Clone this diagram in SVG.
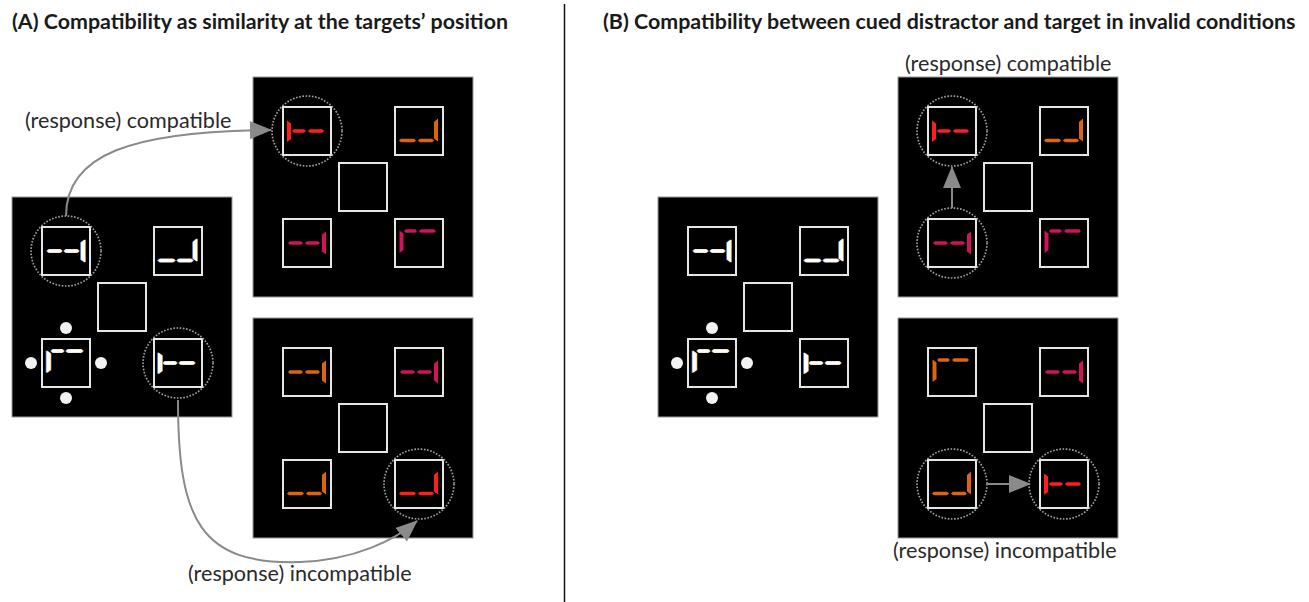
<svg xmlns="http://www.w3.org/2000/svg" xmlns:xlink="http://www.w3.org/1999/xlink" width="1309" height="602" viewBox="0 0 1309 602">
  <style>
    .title { font-family: Lato, "Liberation Sans", sans-serif; font-weight: bold; font-size: 21.4px; fill: #1a1a1a; }
    .label { font-family: Lato, "Liberation Sans", sans-serif; font-size: 21.6px; fill: #2a2a2a; }
    .panel { fill: #000; stroke: #9a9a9a; stroke-width: 1; }
    .box { fill: none; stroke: #e6e6e6; stroke-width: 2; }
    .ring { fill: none; stroke: #a0a0a0; stroke-width: 1.7; stroke-dasharray: 1.6 1.6; }
    .dot { fill: #f2f2f2; }
    .link { fill: none; stroke: #8a8a8a; stroke-width: 2; }
    .white { color: #ffffff; }
    .red { color: #ff1f1f; }
    .orange { color: #de6410; }
    .pink { color: #d2125c; }
  </style>
  <defs>
    <marker id="head" markerUnits="userSpaceOnUse" markerWidth="24" markerHeight="20" refX="21" refY="9" orient="auto">
      <path d="M0,0 L22,9 L0,18 Z" fill="#8a8a8a"/>
    </marker>
    <!-- two dashes on the middle line, bar on the right -->
    <g id="g-mid-right" fill="currentColor">
      <polygon points="-19,0 -17.2,-1.8 -5.8,-1.8 -4,0 -5.8,1.8 -17.2,1.8"/>
      <polygon points="-2,0 -0.2,-1.8 11.2,-1.8 13,0 11.2,1.8 -0.2,1.8"/>
      <polygon points="15,-8.5 19,-11.5 19,11.5 15,8.5"/>
    </g>
    <!-- two dashes on the bottom line, bar on the right -->
    <g id="g-bot-right" fill="currentColor">
      <polygon points="-20,9.5 -18.2,7.7 -4.8,7.7 -3,9.5 -4.8,11.3 -18.2,11.3"/>
      <polygon points="-1,9.5 0.8,7.7 13.2,7.7 15,9.5 13.2,11.3 0.8,11.3"/>
      <polygon points="15,-9 19,-12.5 19,10.5 15,7.5"/>
    </g>
    <!-- two dashes on the top line, bar on the left -->
    <g id="g-top-left" fill="currentColor">
      <polygon points="-15,-12 -13.2,-13.8 -3.8,-13.8 -2,-12 -3.8,-10.2 -13.2,-10.2"/>
      <polygon points="0,-12 1.8,-13.8 15.2,-13.8 17,-12 15.2,-10.2 1.8,-10.2"/>
      <polygon points="-19.5,-12.5 -15.5,-9.5 -15.5,7 -19.5,10"/>
    </g>
    <!-- bar on the left, two dashes on the middle line -->
    <g id="g-mid-left" fill="currentColor">
      <polygon points="-20,-10.5 -16,-7.5 -16,8 -20,11"/>
      <polygon points="-15,0 -13.2,-1.8 -2.8,-1.8 -1,0 -2.8,1.8 -13.2,1.8"/>
      <polygon points="1,0 2.8,-1.8 15.2,-1.8 17,0 15.2,1.8 2.8,1.8"/>
    </g>
    <!-- display frame: black field with four placeholders and a centre box -->
    <g id="frame">
      <rect class="panel" x="0" y="0" width="220" height="220"/>
      <rect class="box" x="30" y="30" width="48" height="48"/>
      <rect class="box" x="142" y="30" width="48" height="48"/>
      <rect class="box" x="86" y="86" width="48" height="48"/>
      <rect class="box" x="30" y="142" width="48" height="48"/>
      <rect class="box" x="142" y="142" width="48" height="48"/>
    </g>
    <!-- white glyphs with a slight colour fringe -->
    <g id="w-mid-right"><use href="#g-mid-right" x="-0.8" style="color:#5aa0ff"/><use href="#g-mid-right" x="0.8" style="color:#ffb040"/><use href="#g-mid-right" class="white"/></g>
    <g id="w-bot-right"><use href="#g-bot-right" x="-0.8" style="color:#5aa0ff"/><use href="#g-bot-right" x="0.8" style="color:#ffb040"/><use href="#g-bot-right" class="white"/></g>
    <g id="w-top-left"><use href="#g-top-left" x="-0.8" style="color:#5aa0ff"/><use href="#g-top-left" x="0.8" style="color:#ffb040"/><use href="#g-top-left" class="white"/></g>
    <g id="w-mid-left"><use href="#g-mid-left" x="-0.8" style="color:#5aa0ff"/><use href="#g-mid-left" x="0.8" style="color:#ffb040"/><use href="#g-mid-left" class="white"/></g>
    <!-- cue dots around a placeholder -->
    <g id="cue">
      <circle class="dot" cx="0" cy="-35" r="6"/>
      <circle class="dot" cx="-35" cy="0" r="6"/>
      <circle class="dot" cx="35" cy="0" r="6"/>
      <circle class="dot" cx="0" cy="35" r="6"/>
    </g>
  </defs>

  <rect x="0" y="0" width="1309" height="602" fill="#ffffff"/>

  <!-- headings and divider -->
  <text class="title" x="12" y="29">(A) Compatibility as similarity at the targets’ position</text>
  <text class="title" x="603" y="29">(B) Compatibility between cued distractor and target in invalid conditions</text>
  <line x1="564.5" y1="4" x2="564.5" y2="602" stroke="#111" stroke-width="1.5"/>

  <!-- (A) cue display -->
  <g id="a-cue" transform="translate(12,197)">
    <use href="#frame"/>
    <use href="#w-mid-right" transform="translate(54,54)"/>
    <use href="#w-bot-right" transform="translate(166,54)"/>
    <use href="#w-top-left" transform="translate(54,166)"/>
    <use href="#w-mid-left" transform="translate(166,166)"/>
    <use href="#cue" transform="translate(54,166)"/>
    <circle class="ring" cx="54" cy="54" r="35"/>
    <circle class="ring" cx="166" cy="166" r="35"/>
  </g>

  <!-- (A) compatible target display -->
  <g id="a-compatible" transform="translate(253,77)">
    <use href="#frame"/>
    <use href="#g-mid-left" class="red" transform="translate(54,54)"/>
    <use href="#g-bot-right" class="orange" transform="translate(166,54)"/>
    <use href="#g-mid-right" class="pink" transform="translate(54,166)"/>
    <use href="#g-top-left" class="pink" transform="translate(166,166)"/>
    <circle class="ring" cx="54" cy="54" r="35"/>
  </g>

  <!-- (A) incompatible target display -->
  <g id="a-incompatible" transform="translate(253,318)">
    <use href="#frame"/>
    <use href="#g-mid-right" class="orange" transform="translate(54,54)"/>
    <use href="#g-mid-right" class="pink" transform="translate(166,54)"/>
    <use href="#g-bot-right" class="orange" transform="translate(54,166)"/>
    <use href="#g-bot-right" class="red" transform="translate(166,166)"/>
    <circle class="ring" cx="166" cy="166" r="35"/>
  </g>

  <!-- (B) cue display -->
  <g id="b-cue" transform="translate(658,197)">
    <use href="#frame"/>
    <use href="#w-mid-right" transform="translate(54,54)"/>
    <use href="#w-bot-right" transform="translate(166,54)"/>
    <use href="#w-top-left" transform="translate(54,166)"/>
    <use href="#w-mid-left" transform="translate(166,166)"/>
    <use href="#cue" transform="translate(54,166)"/>
  </g>

  <!-- (B) compatible target display -->
  <g id="b-compatible" transform="translate(898,77)">
    <use href="#frame"/>
    <use href="#g-mid-left" class="red" transform="translate(54,54)"/>
    <use href="#g-bot-right" class="orange" transform="translate(166,54)"/>
    <use href="#g-mid-right" class="pink" transform="translate(54,166)"/>
    <use href="#g-top-left" class="pink" transform="translate(166,166)"/>
    <circle class="ring" cx="54" cy="54" r="35"/>
    <circle class="ring" cx="54" cy="166" r="35"/>
  </g>

  <!-- (B) incompatible target display -->
  <g id="b-incompatible" transform="translate(898,318)">
    <use href="#frame"/>
    <use href="#g-top-left" class="orange" transform="translate(54,54)"/>
    <use href="#g-mid-right" class="pink" transform="translate(166,54)"/>
    <use href="#g-bot-right" class="orange" transform="translate(54,166)"/>
    <use href="#g-mid-left" class="red" transform="translate(166,166)"/>
    <circle class="ring" cx="54" cy="166" r="35"/>
    <circle class="ring" cx="166" cy="166" r="35"/>
  </g>

  <!-- connectors -->
  <g id="connectors">
    <path class="link" d="M66,216 C66,155 130,131 271,130" marker-end="url(#head)"/>
    <path class="link" d="M178,400 C178,520 200,565 300,562 C355,560 395,540 417,521" marker-end="url(#head)"/>
    <path class="link" d="M952,208 L952,167" marker-end="url(#head)"/>
    <path class="link" d="M987,484 L1030,484" marker-end="url(#head)"/>
  </g>

  <!-- labels -->
  <text class="label" x="25" y="128">(response) compatible</text>
  <text class="label" x="188" y="581">(response) incompatible</text>
  <text class="label" x="905" y="71">(response) compatible</text>
  <text class="label" x="893" y="558">(response) incompatible</text>
</svg>
